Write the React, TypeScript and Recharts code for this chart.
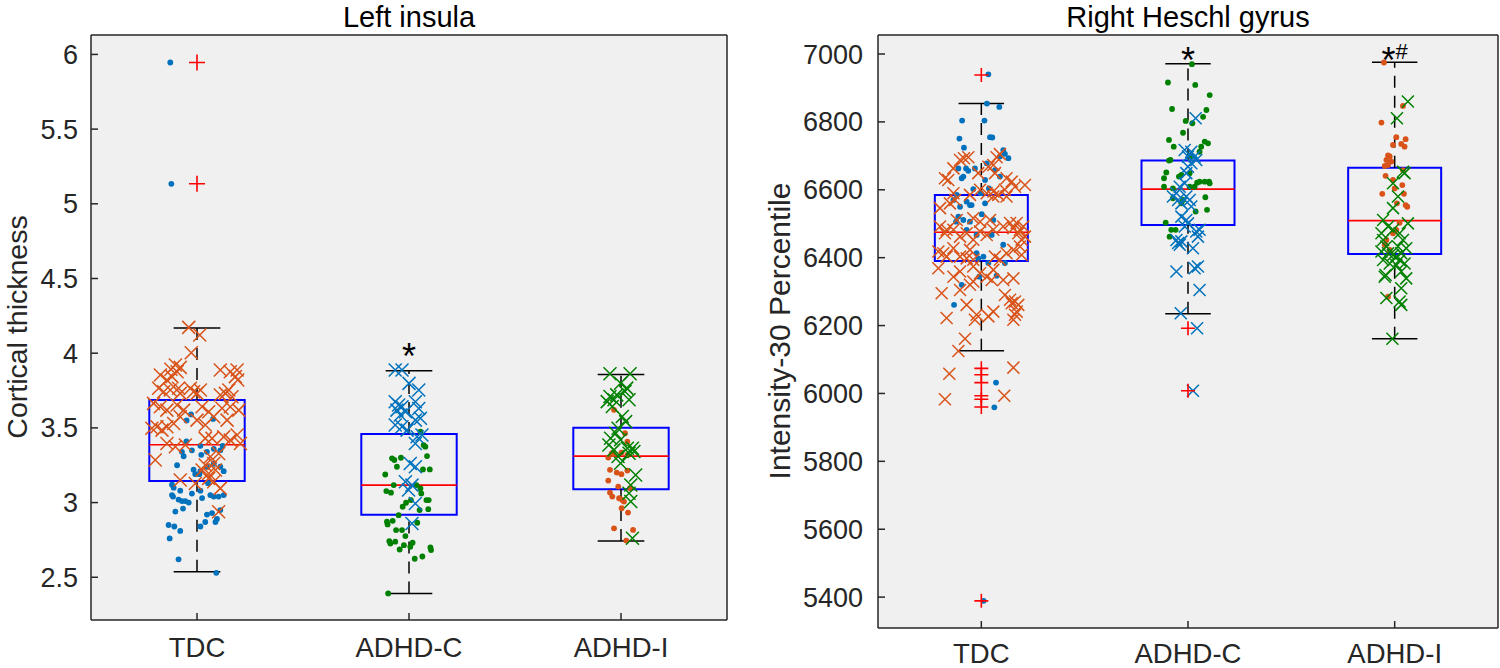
import React from "react"
import { CartesianGrid, ReferenceArea, ReferenceLine, Scatter, ScatterChart, XAxis, YAxis } from "recharts"

const FONT = "'Liberation Sans', Arial, Helvetica, sans-serif"
const AXIS = "#262626"
const BLUE = "#0072BD"
const ORANGE = "#D95319"
const GREEN = "#008000"

const groups = ["TDC", "ADHD-C", "ADHD-I"]

// ---- Left insula (cortical thickness) ----
const insulaTicks = [2.5, 3, 3.5, 4, 4.5, 5, 5.5, 6]
const insulaDomain = [2.214, 6.13]
const insulaBoxes = [
  { q1: 3.144, med: 3.387, q3: 3.686, lo: 2.537, hi: 4.168 },
  { q1: 2.918, med: 3.117, q3: 3.459, lo: 2.392, hi: 3.882 },
  { q1: 3.09, med: 3.311, q3: 3.501, lo: 2.742, hi: 3.858 },
]
const insulaOutliers = [[1, 5.946], [1, 5.134]]
const insulaNotes = [{ g: 2, y: 4.034, text: "*" }]

// [jitter, value]
const insulaTdcDots = [
  [-0.126, 5.946], [-0.121, 5.134],
  [-0.028, 3.59], [-0.049, 3.55], [0.076, 3.56], [-0.05, 3.41], [-0.071, 3.34], [-0.024, 3.35],
  [0.016, 3.38], [0.02, 3.32], [0.047, 3.34], [0.079, 3.36], [0.11, 3.35], [0.121, 3.38],
  [-0.063, 3.31], [-0.094, 3.25], [-0.016, 3.22], [-0.008, 3.19], [0.011, 3.19], [0.016, 3.21],
  [0.047, 3.24], [0.079, 3.26], [0.11, 3.24], [0.126, 3.21], [-0.118, 3.12], [-0.11, 3.1],
  [-0.079, 3.08], [-0.118, 3.05], [-0.113, 3.04], [-0.087, 3.02], [-0.071, 3.01], [-0.055, 3.01],
  [-0.039, 3.0], [-0.024, 3.06], [0.016, 3.08], [0.024, 3.03], [0.063, 3.05], [0.079, 3.04],
  [0.102, 3.04], [0.126, 3.05], [0.052, 3.13], [-0.102, 2.94], [-0.066, 2.96], [0.047, 2.92],
  [0.071, 2.93], [0.11, 2.95], [-0.134, 2.85], [-0.107, 2.84], [-0.079, 2.81], [-0.129, 2.76],
  [0.016, 2.84], [0.039, 2.87], [0.087, 2.87], [0.094, 2.89], [-0.087, 2.62], [0.091, 2.53],
]
const insulaTdcCross = [
  [-0.039, 4.173], [0.013, 4.122], [-0.027, 4.003], [-0.102, 3.921], [-0.079, 3.905], [-0.123, 3.892],
  [-0.094, 3.876], [-0.173, 3.854], [-0.142, 3.82], [-0.118, 3.843], [0.11, 3.887], [0.157, 3.876],
  [0.189, 3.887], [0.181, 3.843], [0.192, 3.82], [-0.181, 3.765], [-0.157, 3.742], [-0.126, 3.753],
  [-0.087, 3.765], [-0.079, 3.731], [-0.031, 3.765], [-0.016, 3.742], [0, 3.731], [0.016, 3.753],
  [0.11, 3.72], [0.134, 3.731], [0.15, 3.753], [0.165, 3.709], [-0.205, 3.664], [-0.173, 3.642],
  [-0.142, 3.619], [-0.094, 3.653], [-0.063, 3.619], [0.024, 3.642], [0.055, 3.608], [0.079, 3.575],
  [0.118, 3.631], [0.157, 3.642], [0.197, 3.619], [0.142, 3.552], [-0.213, 3.497], [-0.189, 3.508],
  [-0.165, 3.485], [-0.142, 3.508], [-0.079, 3.575], [-0.11, 3.53], [0, 3.552], [0.039, 3.519],
  [0.039, 3.43], [0.071, 3.43], [0.126, 3.44], [0.157, 3.418], [0.205, 3.396], [0.189, 3.452],
  [-0.197, 3.285], [-0.142, 3.396], [-0.102, 3.374], [-0.055, 3.385], [0.063, 3.307], [0.079, 3.262],
  [0.102, 3.329], [0.039, 3.251], [0.024, 3.218], [0.055, 3.195], [0.087, 3.218], [-0.079, 3.151],
  [0.055, 3.162], [0.079, 3.14], [0.11, 3.095], [-0.008, 3.128], [0.102, 2.939],
]
const insulaAdhdcDots = [
  [0.054, 3.474], [0.069, 3.385], [0.077, 3.374], [0.085, 3.311], [-0.08, 3.296], [-0.069, 3.285],
  [-0.038, 3.3], [-0.057, 3.24], [-0.112, 3.188], [0.066, 3.222], [0.098, 3.222], [-0.072, 3.117],
  [-0.107, 3.077], [-0.085, 3.066], [0.035, 3.117], [0.054, 3.095], [0.058, 3.061], [-0.014, 2.999],
  [-0.03, 2.972], [0.009, 3.017], [0.082, 3.017], [0.093, 3.017], [0.05, 2.95], [0.091, 2.956],
  [-0.049, 2.916], [-0.104, 2.872], [-0.101, 2.854], [-0.077, 2.878], [0.039, 2.865], [-0.061, 2.816],
  [-0.033, 2.816], [-0.017, 2.776], [-0.093, 2.742], [-0.088, 2.726], [-0.065, 2.738], [-0.024, 2.715],
  [0.017, 2.731], [-0.044, 2.686], [0.006, 2.704], [0.101, 2.7], [0.104, 2.682], [0.027, 2.624],
  [0.063, 2.639], [-0.098, 2.392],
]
const insulaAdhdcCross = [
  [-0.065, 3.887], [-0.033, 3.887], [0, 3.798], [0.046, 3.753], [-0.065, 3.675], [-0.049, 3.653],
  [-0.033, 3.642], [-0.057, 3.619], [-0.017, 3.608], [-0.041, 3.586], [0.03, 3.675], [0.046, 3.63],
  [0.054, 3.564], [0.03, 3.552], [-0.065, 3.519], [-0.033, 3.508], [-0.009, 3.485], [0.038, 3.441],
  [0.03, 3.396], [0.061, 3.452], [0.006, 3.262], [0.03, 3.24], [-0.017, 3.139], [0.014, 3.117],
  [-0.002, 3.084], [0.03, 2.994], [0.014, 2.86],
]
const insulaAdhdiDots = [
  [-0.033, 3.621], [0.019, 3.464], [0.03, 3.408], [0.002, 3.335], [-0.044, 3.33], [-0.06, 3.301],
  [-0.036, 3.324], [0.03, 3.319], [-0.052, 3.219], [-0.02, 3.201], [0.002, 3.19], [0.03, 3.214],
  [-0.06, 3.147], [-0.013, 3.107], [0.043, 3.096], [-0.052, 3.067], [-0.041, 3.04], [-0.009, 3.029],
  [0.006, 3.018], [0.014, 3.007], [0.003, 2.962], [0.033, 2.933], [-0.033, 2.828], [0.057, 2.817],
  [0.025, 2.746],
]
const insulaAdhdiCross = [
  [-0.052, 3.862], [0.043, 3.862], [-0.002, 3.799], [0.019, 3.743], [0.038, 3.688], [0.027, 3.766],
  [-0.052, 3.71], [-0.065, 3.676], [-0.033, 3.688], [-0.041, 3.643], [-0.02, 3.721], [0.006, 3.576],
  [0.022, 3.542], [-0.014, 3.498], [-0.049, 3.431], [-0.057, 3.386], [-0.025, 3.464], [-0.002, 3.42],
  [0.03, 3.364], [0.054, 3.364], [0.038, 3.33], [0.061, 3.342], [-0.014, 3.308], [-0.002, 3.263],
  [-0.033, 3.353], [0.069, 3.185], [0.046, 3.118], [0.038, 3.063], [0.046, 3.007], [0.054, 2.761],
]

// ---- Right Heschl gyrus (intensity) ----
const heschlTicks = [5400, 5600, 5800, 6000, 6200, 6400, 6600, 6800, 7000]
const heschlDomain = [5309, 7056]
const heschlBoxes = [
  { q1: 6390, med: 6475, q3: 6585, lo: 6126, hi: 6854 },
  { q1: 6496, med: 6602, q3: 6686, lo: 6235, hi: 6971 },
  { q1: 6411, med: 6509, q3: 6665, lo: 6161, hi: 6976 },
]
const heschlOutliers = [
  [1, 6938], [1, 6074], [1, 6055], [1, 6032], [1, 5993], [1, 5983], [1, 5960], [1, 5389],
  [2, 6192], [2, 6008],
]
const heschlNotes = [
  { g: 2, y: 7007, text: "*" },
  { g: 3, y: 7007, text: "*#" },
]

const heschlTdcDots = [
  [0.034, 6940], [0.027, 6854], [0.087, 6844], [-0.093, 6804], [0.015, 6804], [-0.106, 6751],
  [0.042, 6755], [0.053, 6754], [-0.084, 6724], [0.106, 6717], [0.114, 6706], [0.09, 6698],
  [0.131, 6693], [0.026, 6678], [-0.111, 6663], [-0.074, 6663], [-0.087, 6639], [-0.063, 6656],
  [-0.031, 6663], [-0.095, 6634], [0.066, 6658], [0.09, 6639], [-0.039, 6602], [0.018, 6629],
  [0.037, 6604], [-0.119, 6585], [-0.135, 6570], [-0.103, 6550], [-0.071, 6565], [-0.055, 6555],
  [-0.047, 6555], [-0.003, 6590], [0.018, 6560], [-0.111, 6521], [-0.087, 6511], [-0.055, 6506],
  [0.002, 6528], [-0.122, 6506], [0.058, 6511], [-0.071, 6482], [-0.023, 6467], [0.05, 6467],
  [0.106, 6438], [-0.023, 6413], [-0.015, 6398], [0.01, 6403], [0.034, 6384], [0.114, 6384],
  [0.074, 6347], [-0.01, 6344], [-0.095, 6320], [-0.132, 6261], [0.071, 6032], [0.063, 5959],
  [0.011, 5389],
]
const heschlTdcCross = [
  [0.09, 6705], [0.074, 6696], [-0.103, 6688], [-0.084, 6693], [-0.063, 6696], [-0.135, 6663],
  [-0.16, 6629], [-0.176, 6634], [-0.015, 6649], [0.034, 6668], [0.058, 6673], [0.066, 6649],
  [0.122, 6634], [0.147, 6624], [0.211, 6614], [0.163, 6609], [-0.2, 6546], [-0.152, 6560],
  [-0.127, 6570], [-0.135, 6590], [-0.055, 6585], [-0.006, 6600], [0.026, 6590], [0.058, 6580],
  [0.082, 6585], [0.114, 6600], [0.122, 6580], [0.058, 6595], [-0.2, 6492], [-0.168, 6482],
  [-0.176, 6472], [-0.119, 6511], [-0.039, 6516], [-0.006, 6506], [0.042, 6511], [0.106, 6492],
  [0.139, 6502], [0.155, 6487], [0.171, 6502], [0.187, 6482], [0.203, 6492], [0.179, 6472],
  [0.211, 6462], [0.195, 6453], [-0.135, 6482], [-0.103, 6462], [-0.071, 6472], [-0.039, 6453],
  [-0.006, 6477], [0.026, 6467], [0.058, 6482], [-0.208, 6418], [-0.184, 6413], [-0.168, 6403],
  [-0.135, 6428], [-0.103, 6403], [-0.071, 6398], [-0.039, 6394], [-0.055, 6423], [0.066, 6403],
  [0.09, 6394], [0.122, 6413], [0.155, 6423], [0.187, 6433], [0.195, 6408], [-0.208, 6369],
  [-0.135, 6344], [-0.103, 6359], [-0.039, 6374], [-0.006, 6354], [0.026, 6344], [0.05, 6334],
  [0.058, 6364], [0.106, 6334], [0.155, 6339], [-0.192, 6295], [-0.103, 6305], [-0.055, 6320],
  [-0.039, 6330], [0.114, 6290], [0.139, 6276], [0.147, 6266], [0.163, 6271], [0.179, 6261],
  [0.171, 6241], [-0.168, 6222], [-0.071, 6261], [-0.023, 6232], [0.034, 6227], [0.058, 6241],
  [0.163, 6232], [-0.031, 6217], [0.155, 6217], [-0.079, 6161], [-0.111, 6125], [-0.155, 6058],
  [-0.176, 5983], [0.155, 6076], [0.111, 5993],
]
const heschlAdhdcDots = [
  [0.019, 6970], [-0.097, 6916], [0.035, 6909], [0.105, 6879], [-0.077, 6838], [0.089, 6835],
  [0.073, 6815], [-0.011, 6803], [0.021, 6796], [-0.024, 6768], [-0.092, 6747], [-0.069, 6727],
  [0.081, 6742], [0.097, 6737], [0.064, 6727], [0.056, 6712], [-0.092, 6686], [-0.085, 6688],
  [0.016, 6698], [-0.105, 6651], [-0.044, 6639], [-0.032, 6644], [0.008, 6649], [-0.116, 6634],
  [0.044, 6621], [0.056, 6624], [0.081, 6624], [0.102, 6624], [0.105, 6619], [-0.116, 6609],
  [-0.073, 6604], [0.008, 6609], [0.032, 6609], [0.084, 6578], [-0.032, 6560], [0.037, 6536],
  [0.092, 6541], [-0.073, 6575], [-0.024, 6570], [-0.108, 6503], [-0.081, 6482], [-0.06, 6482],
  [-0.089, 6462],
]
const heschlAdhdcCross = [
  [0.037, 6811], [-0.016, 6717], [0.016, 6712], [0, 6698], [0.032, 6698], [0, 6668], [-0.008, 6649],
  [0.016, 6678], [0.04, 6688], [-0.016, 6619], [-0.04, 6609], [-0.056, 6590], [-0.073, 6580],
  [-0.048, 6570], [-0.032, 6560], [-0.008, 6580], [0.008, 6570], [0.016, 6551], [-0.032, 6521],
  [-0.008, 6511], [0, 6501], [-0.016, 6492], [0.04, 6477], [0.056, 6482], [0.048, 6462],
  [-0.056, 6452], [-0.048, 6443], [-0.032, 6448], [-0.04, 6438], [0.024, 6428], [-0.056, 6359],
  [0.032, 6369], [0.048, 6374], [0.056, 6305], [-0.035, 6236], [0.044, 6192], [0.024, 6008],
]
const heschlAdhdiDots = [
  [-0.052, 6975], [0.04, 6847], [-0.064, 6798], [0.008, 6755], [0.053, 6749], [-0.008, 6732],
  [0.032, 6735], [0.048, 6727], [-0.032, 6701], [-0.024, 6698], [-0.04, 6688], [-0.016, 6683],
  [-0.048, 6670], [-0.032, 6673], [-0.044, 6641], [0.04, 6658], [-0.008, 6629], [0.037, 6614],
  [0, 6604], [-0.06, 6588], [0.045, 6588], [0.011, 6560], [0.053, 6555], [0.061, 6550],
  [0.024, 6503], [0.008, 6482], [-0.008, 6472], [-0.04, 6452], [-0.048, 6438], [-0.024, 6423],
  [-0.032, 6285],
]
const heschlAdhdiCross = [
  [0.064, 6860], [0.011, 6811], [0.04, 6653], [0.048, 6649], [-0.008, 6619], [0.016, 6580],
  [-0.008, 6546], [-0.056, 6511], [0.064, 6501], [-0.032, 6492], [-0.064, 6472], [-0.008, 6482],
  [0.024, 6472], [0.04, 6452], [0.016, 6433], [0.056, 6428], [-0.056, 6452], [-0.04, 6433],
  [-0.064, 6418], [-0.032, 6413], [-0.008, 6408], [0.008, 6403], [0.032, 6413], [-0.056, 6393],
  [-0.024, 6383], [0.008, 6378], [0.024, 6393], [0.048, 6383], [-0.044, 6349], [-0.048, 6344],
  [0.032, 6359], [0.056, 6339], [0.032, 6310], [-0.04, 6281], [0.024, 6271], [0.032, 6261],
  [-0.011, 6161],
]

const toPoints = (rows: number[][], g: number) => rows.map(([dx, v]) => ({ x: g + dx, y: v }))

const dot = (color: string) => (p: any) => <circle cx={p.cx} cy={p.cy} r={2.9} fill={color} />

const cross = (color: string, s: number) => (p: any) => (
  <path
    d={`M${p.cx - s},${p.cy - s}L${p.cx + s},${p.cy + s}M${p.cx - s},${p.cy + s}L${p.cx + s},${p.cy - s}`}
    stroke={color}
    strokeWidth={1.5}
    fill="none"
  />
)

const plus = (s: number) => (p: any) => (
  <path d={`M${p.cx - s},${p.cy}L${p.cx + s},${p.cy}M${p.cx},${p.cy - s}L${p.cx},${p.cy + s}`} stroke="#FF0000" strokeWidth={1.6} fill="none" />
)

// asterisk drawn large, hash smaller (as in the figure)
const note = (p: any) => (
  <text x={p.cx} y={p.cy + 21} textAnchor="middle" fontFamily={FONT} fill="#000">
    {String(p.payload.text)
      .split("")
      .map((ch: string, i: number) => (
        <tspan key={i} fontSize={ch === "*" ? 36 : 22} dy={ch === "*" ? 0 : -14}>
          {ch}
        </tspan>
      ))}
  </text>
)

const emptyTick = () => <g />

interface Series {
  rows: number[][]
  g: number
  kind: "dot" | "cross"
  color: string
}

interface PanelProps {
  left: number
  width: number
  yAxisWidth: number
  rightWidth: number
  xAxisHeight: number
  tickMargin: number
  xTickMargin: number
  domain: number[]
  ticks: number[]
  boxes: { q1: number; med: number; q3: number; lo: number; hi: number }[]
  outliers: number[][]
  notes: { g: number; y: number; text: string }[]
  series: Series[]
  crossSize: number
  plusSize: number
}

function BoxPanel(props: PanelProps) {
  const { boxes } = props
  const half = 0.225
  const cap = 0.11
  const axisStyle = { stroke: AXIS, strokeWidth: 1.5 }
  return (
    <div style={{ position: "absolute", left: props.left, top: 0 }}>
      <ScatterChart width={props.width} height={668} margin={{ top: 34, right: 0, bottom: 0, left: 0 }}>
        <CartesianGrid fill="#F0F0F0" horizontal={false} vertical={false} />
        <XAxis
          type="number"
          dataKey="x"
          domain={[0.5, 3.5]}
          ticks={[1, 2, 3]}
          interval={0}
          height={props.xAxisHeight}
          tickSize={-7}
          tickMargin={props.xTickMargin}
          tickFormatter={(v: number) => groups[v - 1]}
          tick={{ fill: AXIS, fontSize: 27.5, fontFamily: FONT }}
          axisLine={axisStyle}
          tickLine={axisStyle}
        />
        <XAxis
          xAxisId="t"
          orientation="top"
          type="number"
          dataKey="x"
          domain={[0.5, 3.5]}
          ticks={[1, 2, 3]}
          interval={0}
          height={1}
          tickSize={-7}
          tick={emptyTick}
          axisLine={axisStyle}
          tickLine={axisStyle}
        />
        <YAxis
          type="number"
          dataKey="y"
          domain={props.domain}
          ticks={props.ticks}
          interval={0}
          width={props.yAxisWidth}
          tickSize={-7}
          tickMargin={props.tickMargin}
          tick={{ fill: AXIS, fontSize: 27, fontFamily: FONT }}
          axisLine={axisStyle}
          tickLine={axisStyle}
        />
        <YAxis
          yAxisId="r"
          orientation="right"
          type="number"
          dataKey="y"
          domain={props.domain}
          ticks={props.ticks}
          interval={0}
          width={props.rightWidth}
          tickSize={-7}
          tick={emptyTick}
          axisLine={axisStyle}
          tickLine={axisStyle}
        />
        {boxes.map((b, i) => (
          <ReferenceArea
            key={"box" + i}
            x1={i + 1 - half}
            x2={i + 1 + half}
            y1={b.q1}
            y2={b.q3}
            fill="none"
            stroke="#0000FF"
            strokeWidth={2}
          />
        ))}
        {boxes.map((b, i) => (
          <ReferenceLine key={"uw" + i} segment={[{ x: i + 1, y: b.q3 }, { x: i + 1, y: b.hi }]} stroke="#000" strokeWidth={1.5} strokeDasharray="12 8" />
        ))}
        {boxes.map((b, i) => (
          <ReferenceLine key={"lw" + i} segment={[{ x: i + 1, y: b.lo }, { x: i + 1, y: b.q1 }]} stroke="#000" strokeWidth={1.5} strokeDasharray="12 8" />
        ))}
        {boxes.map((b, i) => (
          <ReferenceLine key={"uc" + i} segment={[{ x: i + 1 - cap, y: b.hi }, { x: i + 1 + cap, y: b.hi }]} stroke="#000" strokeWidth={1.5} />
        ))}
        {boxes.map((b, i) => (
          <ReferenceLine key={"lc" + i} segment={[{ x: i + 1 - cap, y: b.lo }, { x: i + 1 + cap, y: b.lo }]} stroke="#000" strokeWidth={1.5} />
        ))}
        {boxes.map((b, i) => (
          <ReferenceLine key={"md" + i} segment={[{ x: i + 1 - half, y: b.med }, { x: i + 1 + half, y: b.med }]} stroke="#FF0000" strokeWidth={1.6} />
        ))}
        {props.series.map((s, i) => (
          <Scatter
            key={"s" + i}
            data={toPoints(s.rows, s.g)}
            shape={s.kind === "dot" ? dot(s.color) : cross(s.color, props.crossSize)}
            isAnimationActive={false}
          />
        ))}
        <Scatter
          data={props.outliers.map(([g, v]) => ({ x: g, y: v }))}
          shape={plus(props.plusSize)}
          isAnimationActive={false}
        />
        <Scatter data={props.notes.map((n) => ({ x: n.g, y: n.y, text: n.text }))} shape={note} isAnimationActive={false} />
      </ScatterChart>
    </div>
  )
}

export default function App() {
  return (
    <div style={{ position: "absolute", left: 0, top: 0, width: 1500, height: 668, background: "#fff", overflow: "hidden" }}>
      <BoxPanel
        left={0}
        width={740}
        yAxisWidth={91}
        rightWidth={13}
        xAxisHeight={48}
        tickMargin={20}
        xTickMargin={24}
        domain={insulaDomain}
        ticks={insulaTicks}
        boxes={insulaBoxes}
        outliers={insulaOutliers}
        notes={insulaNotes}
        crossSize={6.5}
        plusSize={8}
        series={[
          { rows: insulaTdcDots, g: 1, kind: "dot", color: BLUE },
          { rows: insulaTdcCross, g: 1, kind: "cross", color: ORANGE },
          { rows: insulaAdhdcDots, g: 2, kind: "dot", color: GREEN },
          { rows: insulaAdhdcCross, g: 2, kind: "cross", color: BLUE },
          { rows: insulaAdhdiDots, g: 3, kind: "dot", color: ORANGE },
          { rows: insulaAdhdiCross, g: 3, kind: "cross", color: GREEN },
        ]}
      />
      <BoxPanel
        left={760}
        width={740}
        yAxisWidth={118}
        rightWidth={2}
        xAxisHeight={40}
        tickMargin={22}
        xTickMargin={22}
        domain={heschlDomain}
        ticks={heschlTicks}
        boxes={heschlBoxes}
        outliers={heschlOutliers}
        notes={heschlNotes}
        crossSize={6}
        plusSize={7}
        series={[
          { rows: heschlTdcDots, g: 1, kind: "dot", color: BLUE },
          { rows: heschlTdcCross, g: 1, kind: "cross", color: ORANGE },
          { rows: heschlAdhdcDots, g: 2, kind: "dot", color: GREEN },
          { rows: heschlAdhdcCross, g: 2, kind: "cross", color: BLUE },
          { rows: heschlAdhdiDots, g: 3, kind: "dot", color: ORANGE },
          { rows: heschlAdhdiCross, g: 3, kind: "cross", color: GREEN },
        ]}
      />
      <svg width={1500} height={668} style={{ position: "absolute", left: 0, top: 0, pointerEvents: "none" }}>
        <text x={409} y={26.5} textAnchor="middle" fontFamily={FONT} fontSize={29} fill="#000">
          Left insula
        </text>
        <text x={1188} y={26.5} textAnchor="middle" fontFamily={FONT} fontSize={29} fill="#000">
          Right Heschl gyrus
        </text>
        <text x={26.5} y={327} textAnchor="middle" fontFamily={FONT} fontSize={28.5} fill={AXIS} transform="rotate(-90 26.5 327)">
          Cortical thickness
        </text>
        <text x={790} y={331} textAnchor="middle" fontFamily={FONT} fontSize={30} fill={AXIS} transform="rotate(-90 790 331)">
          Intensity-30 Percentile
        </text>
      </svg>
    </div>
  )
}
